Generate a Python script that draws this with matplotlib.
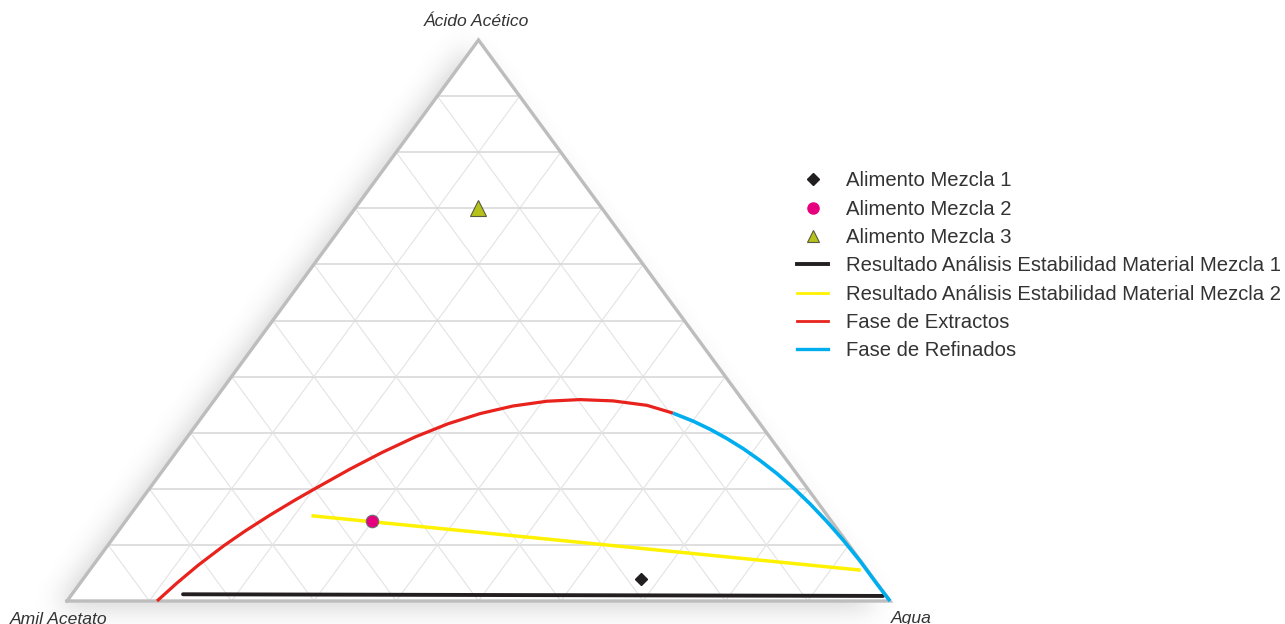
import numpy as np
import matplotlib
matplotlib.use("Agg")
import matplotlib.pyplot as plt
from matplotlib.lines import Line2D

plt.rcParams["font.family"] = ["Liberation Sans", "DejaVu Sans"]

# Compositions as mass fractions of (Agua, Ácido Acético); Amil Acetato = 1 - both
extract_agua = [0.1094, 0.1176, 0.1274, 0.1414, 0.1540, 0.1701, 0.1871, 0.1998,
                0.2263, 0.2504, 0.2767, 0.3050, 0.3348, 0.3681, 0.4052, 0.4438,
                0.4851, 0.5303, 0.5689]
extract_acido = [0.0000, 0.0321, 0.0635, 0.0988, 0.1246, 0.1531, 0.1799, 0.1982,
                 0.2351, 0.2647, 0.2923, 0.3159, 0.3340, 0.3476, 0.3561, 0.3590,
                 0.3567, 0.3488, 0.3349]

raffinate_agua = [0.5689, 0.6007, 0.6282, 0.6567, 0.6860, 0.7167, 0.7486, 0.7816,
                  0.8161, 0.8520, 0.8890, 0.9278, 0.9683, 1.0000]
raffinate_acido = [0.3349, 0.3205, 0.3062, 0.2898, 0.2715, 0.2506, 0.2275, 0.2018,
                   0.1733, 0.1421, 0.1084, 0.0715, 0.0310, 0.0000]

stab1_agua = [0.135, 0.987]
stab1_acido = [0.012, 0.009]
stab2_agua = [0.221, 0.937]
stab2_acido = [0.152, 0.055]

feed_agua = [0.677, 0.300, 0.150]
feed_acido = [0.040, 0.142, 0.700]

vertex_labels = ["Ácido Acético", "Amil Acetato", "Agua"]
legend_labels = ["Alimento Mezcla 1", "Alimento Mezcla 2", "Alimento Mezcla 3",
                 "Resultado Análisis Estabilidad Material Mezcla 1",
                 "Resultado Análisis Estabilidad Material Mezcla 2",
                 "Fase de Extractos", "Fase de Refinados"]


def tern(agua, acido):
    """Map (water, acid) fractions to the plane of the triangle."""
    agua = np.asarray(agua, float)
    acido = np.asarray(acido, float)
    return agua + acido / 2.0, acido


W_PX, H_PX = 1285, 624
fig = plt.figure(figsize=(W_PX / 100, H_PX / 100), dpi=100)
fig.patch.set_facecolor("white")
ax = fig.add_axes([0, 0, 1, 1])
# triangle base spans 823 px starting at 67 px; height 561 px, base at 23 px from bottom
sx, sy = 823.0, 561.0
x0 = -67 / sx
x1 = (W_PX - 67) / sx
y0 = -23 / sy
y1 = (H_PX - 23) / sy
ax.set_xlim(x0, x1)
ax.set_ylim(y0, y1)
ax.axis("off")

# soft drop shadow to the lower left of the triangle
cols = np.arange(W_PX) + 0.5
rows = np.arange(H_PX) + 0.5
C, R = np.meshgrid(cols, rows)
shift_x, shift_y = 12.0, 7.0
xx = (C + shift_x - 67) / sx
yy = (601 - (R - shift_y)) / sy
inside = (yy >= 0) & (xx - yy / 2 >= 0) & (1 - xx - yy / 2 >= 0)
mask = inside.astype(float)
sig = 13.0
k = np.arange(-45, 46)
kern = np.exp(-0.5 * (k / sig) ** 2)
kern /= kern.sum()
mask = np.apply_along_axis(lambda r: np.convolve(r, kern, mode="same"), 1, mask)
mask = np.apply_along_axis(lambda c: np.convolve(c, kern, mode="same"), 0, mask)
shadow = np.zeros((H_PX, W_PX, 4))
shadow[..., :3] = 0.3
shadow[..., 3] = mask * 0.24
ax.imshow(shadow, extent=(x0, x1, y0, y1), origin="upper",
          interpolation="bilinear", zorder=0, aspect="auto")

# white face of the triangle
tri_x, tri_y = tern([0, 1, 0, 0], [0, 0, 1, 0])
ax.fill(tri_x, tri_y, color="white", zorder=1, lw=0)

# grid every 10 %
ticks = np.arange(1, 10) / 10.0
for t in ticks:
    gx, gy = tern([0, 1 - t], [t, t])
    ax.plot(gx, gy, color="#d6d6d6", lw=1.1, zorder=2)
    gx, gy = tern([t, t], [0, 1 - t])
    ax.plot(gx, gy, color="#e3e3e3", lw=0.8, zorder=2)
    gx, gy = tern([1 - t, 0], [0, 1 - t])
    ax.plot(gx, gy, color="#e3e3e3", lw=0.8, zorder=2)

ax.plot(tri_x, tri_y, color="#bdbdbd", lw=2.4, zorder=3,
        solid_joinstyle="miter")

# equilibrium curve
ex, ey = tern(extract_agua, extract_acido)
ax.plot(ex, ey, color="#e8221c", lw=2.3, zorder=5, solid_joinstyle="round",
        solid_capstyle="butt", label=legend_labels[5])
rx, ry = tern(raffinate_agua, raffinate_acido)
ax.plot(rx, ry, color="#00aeef", lw=2.6, zorder=5, solid_joinstyle="round",
        solid_capstyle="butt", label=legend_labels[6])

# stability results
s1x, s1y = tern(stab1_agua, stab1_acido)
ax.plot(s1x, s1y, color="#231f20", lw=2.8, zorder=4,
        solid_capstyle="round", label=legend_labels[3])
s2x, s2y = tern(stab2_agua, stab2_acido)
ax.plot(s2x, s2y, color="#fff200", lw=2.5, zorder=4,
        solid_capstyle="butt", label=legend_labels[4])

# feed points
fx, fy = tern(feed_agua, feed_acido)
ax.plot(fx[0], fy[0], marker="D", ms=6.5, color="#231f20", ls="none",
        zorder=6, label=legend_labels[0])
ax.plot(fx[1], fy[1], marker="o", ms=9, mfc="#e6007e", mec="#6d6d6d",
        mew=0.8, ls="none", zorder=6, label=legend_labels[1])
ax.plot(fx[2], fy[2], marker="^", ms=11, mfc="#b5c219", mec="#5a5a40",
        mew=0.8, ls="none", zorder=6, label=legend_labels[2])

# vertex labels
txt = dict(color="#333333", fontsize=12.6, style="italic", ha="center", va="center")
ax.text((476 - 67) / sx, (601 - 21) / sy, vertex_labels[0], **txt)
ax.text((59 - 67) / sx, (601 - 619) / sy, vertex_labels[1], **txt)
ax.text((911 - 67) / sx, (601 - 618) / sy, vertex_labels[2], **txt)

# legend
handles = [
    Line2D([], [], marker="D", ms=6.5, color="#231f20", ls="none"),
    Line2D([], [], marker="o", ms=8, mfc="#e6007e", mec="#e6007e", ls="none"),
    Line2D([], [], marker="^", ms=9, mfc="#b5c219", mec="#5a5a40", mew=0.8, ls="none"),
    Line2D([], [], color="#231f20", lw=2.8),
    Line2D([], [], color="#fff200", lw=2.0),
    Line2D([], [], color="#e8221c", lw=2.0),
    Line2D([], [], color="#00aeef", lw=2.4),
]
leg = fig.legend(handles, legend_labels, loc="upper left",
                 bbox_to_anchor=(797 / W_PX, 1 - 171.5 / H_PX),
                 frameon=False, fontsize=14.6, handlelength=1.53,
                 handletextpad=0.89, labelspacing=0.46, borderpad=0,
                 borderaxespad=0)
for t in leg.get_texts():
    t.set_color("#333333")

fig.savefig("out.png", dpi=100, facecolor="white")
